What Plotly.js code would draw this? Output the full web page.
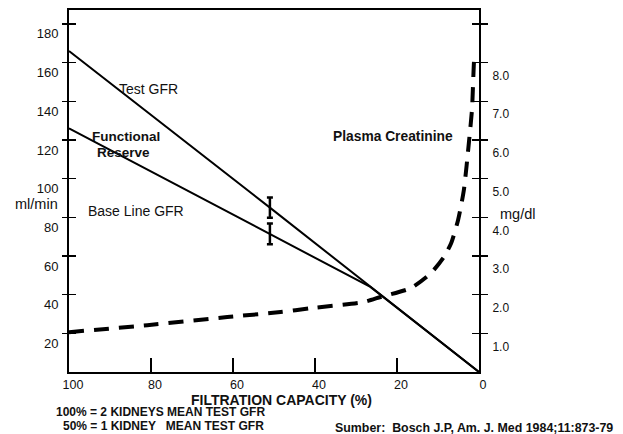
<!DOCTYPE html>
<html>
<head>
<meta charset="utf-8">
<script src="https://cdn.plot.ly/plotly-3.0.1.min.js"></script>
<style>html,body{margin:0;padding:0;background:#fff;}#chart{width:623px;height:434px;}</style>
</head>
<body>
<div id="chart"></div>
<script>
// ---- data ----
const testX = [100, 51, 0];
const testGFR = [166, 85, 0];            // ml/min
const baseX = [100, 51, 26.5, 0];
const baseGFR = [126, 71.4, 44, 0];      // ml/min
const errX = [51, 51];
const errY = [85, 71.4];
const errSize = [5.2, 5.4];
const creatX = [100, 80.9, 61.4, 48.4, 41.1, 28.1, 24.0, 16.6, 11.7, 8.6, 6.8, 5.1, 3.7, 2.4, 1.7, 1.2, 1.0];
const creat = [1.03, 1.21, 1.42, 1.55, 1.65, 1.81, 1.94, 2.17, 2.56, 2.97, 3.33, 3.93, 4.70, 6.0, 6.8, 8.06, 8.2]; // mg/dl
const xTicks = [100, 80, 60, 40, 20, 0];
const yLeftTicks = [20, 40, 60, 80, 100, 120, 140, 160, 180];
const yRightTicks = [1, 2, 3, 4, 5, 6, 7, 8, 9];
const yRightText = ['1.0', '2.0', '3.0', '4.0', '5.0', '6.0', '7.0', '8.0', ''];

// ---- geometry helpers (pixel -> paper) ----
const L = 69, R = 479, T = 10, B = 372;
const W = 623, H = 434;
const px = x => (x - L) / (R - L);
const py = y => (B - y) / (B - T);

const font = 'Liberation Sans, Arial, sans-serif';
const ink = '#111';

const traces = [
  {x: testX, y: testGFR, type: 'scatter', mode: 'lines', line: {color: '#000', width: 2}, hoverinfo: 'skip'},
  {x: baseX, y: baseGFR, type: 'scatter', mode: 'lines', line: {color: '#000', width: 2}, hoverinfo: 'skip'},
  {x: errX, y: errY, type: 'scatter', mode: 'markers', marker: {size: 1, color: 'rgba(0,0,0,0)'},
   error_y: {type: 'data', array: errSize, visible: true, color: '#000', thickness: 2.5, width: 3}, hoverinfo: 'skip'},
  {x: creatX, y: creat, yaxis: 'y2', type: 'scatter', mode: 'lines',
   line: {color: '#000', width: 4, dash: '15px,10px', shape: 'spline', smoothing: 0.6}, hoverinfo: 'skip'}
];

function ann(text, x, y, size) {
  return {text: text, xref: 'paper', yref: 'paper', x: px(x), y: py(y),
    showarrow: false, xanchor: 'left', yanchor: 'middle',
    font: {family: font, size: size, color: ink}};
}

const xTitle = ann('<b>FILTRATION CAPACITY (%)</b>', 281, 399.5, 14);
xTitle.xanchor = 'center';

const annotations = [
  ann('Test GFR', 117, 89, 14),
  ann('<b>Functional</b>', 90, 136, 13.5),
  ann('<b>Reserve</b>', 95, 152, 13.5),
  ann('Base Line GFR', 86, 211, 14),
  ann('<b>Plasma Creatinine</b>', 331, 136, 13.8),
  ann('ml/min', 13, 204, 14.5),
  ann('mg/dl', 498, 214, 14.5),
  xTitle,
  ann('<b>100% = 2 KIDNEYS MEAN TEST GFR</b>', 54, 411.5, 12),
  ann('<b>50% = 1 KIDNEY   MEAN TEST GFR</b>', 61, 426, 12),
  ann('<b>Sumber:  Bosch J.P, Am. J. Med 1984;11:873-79</b>', 333, 428.5, 12.4)
];

const layout = {
  width: W, height: H,
  margin: {l: L, r: W - R, t: T, b: H - B, pad: 0},
  paper_bgcolor: '#fff', plot_bgcolor: '#fff',
  showlegend: false,
  xaxis: {range: [100, 0], showgrid: false, zeroline: false, showline: true, mirror: true,
    linecolor: '#000', linewidth: 2, ticks: 'inside', ticklen: 14, tickwidth: 1.5, tickcolor: '#000',
    tickvals: xTicks, ticktext: xTicks.map(String), ticklabelshift: -4, ticklabelstandoff: 0,
    tickfont: {family: font, size: 12.5, color: ink}},
  yaxis: {range: [0, 187.2], showgrid: false, zeroline: false, showline: true, linecolor: '#000', linewidth: 2,
    ticks: 'outside', ticklen: 5, tickwidth: 1.5, tickcolor: '#000', tickvals: yLeftTicks,
    ticktext: yLeftTicks.map(String), ticklabelshift: 10, ticklabelstandoff: 1,
    tickfont: {family: font, size: 13, color: ink}},
  yaxis3: {range: [0, 187.2], overlaying: 'y', side: 'left', showgrid: false, zeroline: false, showline: false,
    ticks: 'inside', ticklen: 7, tickwidth: 1.5, tickcolor: '#000', tickvals: yLeftTicks, showticklabels: false},
  yaxis2: {range: [0, 9.36], overlaying: 'y', side: 'right', showgrid: false, zeroline: false, showline: true,
    linecolor: '#000', linewidth: 2, ticks: 'outside', ticklen: 7, tickwidth: 1.5, tickcolor: '#000',
    tickvals: yRightTicks, ticktext: yRightText, ticklabelshift: 13, ticklabelstandoff: 2,
    tickfont: {family: font, size: 12, color: ink}},
  yaxis4: {range: [0, 9.36], overlaying: 'y', side: 'right', showgrid: false, zeroline: false, showline: false,
    ticks: 'inside', ticklen: 7, tickwidth: 1.5, tickcolor: '#000', tickvals: yRightTicks, showticklabels: false},
  annotations: annotations
};

// dummy traces so the overlay tick axes are drawn
traces.push({x: [50], y: [50], yaxis: 'y3', mode: 'markers', marker: {opacity: 0}, hoverinfo: 'skip'});
traces.push({x: [50], y: [5], yaxis: 'y4', mode: 'markers', marker: {opacity: 0}, hoverinfo: 'skip'});

Plotly.newPlot('chart', traces, layout, {staticPlot: true, displayModeBar: false});
</script>
</body>
</html>
